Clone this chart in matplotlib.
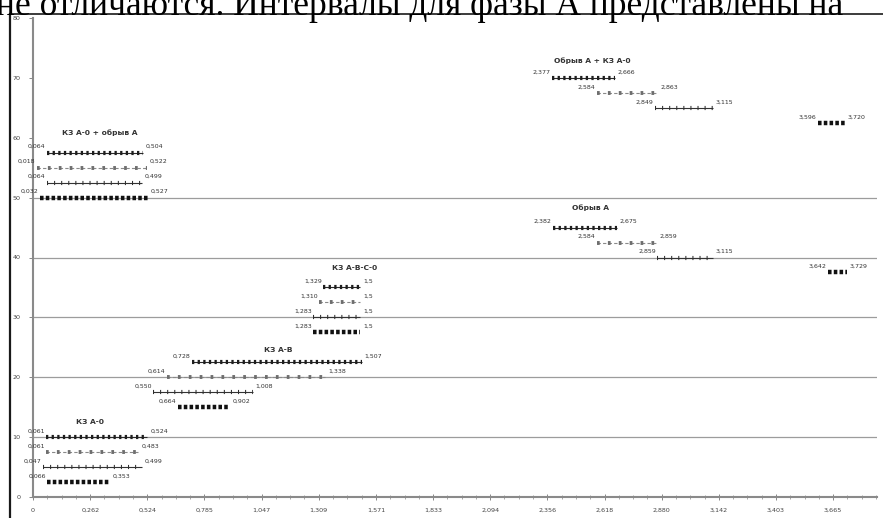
import matplotlib
matplotlib.use("Agg")
import matplotlib.pyplot as plt
from matplotlib.lines import Line2D

# ---- phase-A angle intervals (rad) for each fault case ----
kz_a0_start = [0.061, 0.061, 0.047, 0.066]
kz_a0_end = [0.524, 0.483, 0.499, 0.353]
kz_a0_y = [10, 7.5, 5, 2.5]

kz_ab_start = [0.728, 0.614, 0.550, 0.664]
kz_ab_end = [1.507, 1.338, 1.008, 0.902]
kz_ab_y = [22.5, 20, 17.5, 15]

kz_abc0_start = [1.329, 1.310, 1.283, 1.283]
kz_abc0_end = [1.5, 1.5, 1.5, 1.5]
kz_abc0_y = [35, 32.5, 30, 27.5]

kz_a0_obr_start = [0.064, 0.018, 0.064, 0.032]
kz_a0_obr_end = [0.504, 0.522, 0.499, 0.527]
kz_a0_obr_y = [57.5, 55, 52.5, 50]

obr_a_start = [2.382, 2.584, 2.859, 3.642]
obr_a_end = [2.675, 2.859, 3.115, 3.729]
obr_a_y = [45, 42.5, 40, 37.5]

obr_kz_start = [2.377, 2.584, 2.849, 3.596]
obr_kz_end = [2.666, 2.863, 3.115, 3.720]
obr_kz_y = [70, 67.5, 65, 62.5]

group_titles = ["КЗ А-0", "КЗ А-В", "КЗ А-В-С-0",
                "КЗ А-0 + обрыв А", "Обрыв А", "Обрыв А + КЗ А-0"]

x_tick_labels = ["0", "0,262", "0,524", "0,785", "1,047", "1,309", "1,571",
                 "1,833", "2,094", "2,356", "2,618", "2,880", "3,142",
                 "3,403", "3,665"]
y_tick_labels = ["0", "10", "20", "30", "40", "50", "60", "70", "80"]

W, H = 883, 518
fig = plt.figure(figsize=(W / 100, H / 100), dpi=100)
fig.patch.set_facecolor("white")

# line of document text above the chart
fig.text(-0.004, 1 - 15 / H,
         "не отличаются. Интервалы для фазы А представлены на",
         family="Liberation Serif", fontsize=25.5, va="baseline", ha="left",
         color="black")

# chart frame
fig.add_artist(Line2D([9.5 / W, 9.5 / W], [0, 1 - 14 / H],
                      transform=fig.transFigure, color="#1a1a1a", lw=1.6))
fig.add_artist(Line2D([9.5 / W, 1], [1 - 14 / H, 1 - 14 / H],
                      transform=fig.transFigure, color="#1a1a1a", lw=1.2))

ax = fig.add_axes([33 / W, 1 - 497 / H, (877 - 33) / W, (497 - 18) / H])
ax.set_xlim(0, 3.866)
ax.set_ylim(0, 80)
for s in ("top", "right"):
    ax.spines[s].set_visible(False)
for s in ("left", "bottom"):
    ax.spines[s].set_color("#8a8a8a")
    ax.spines[s].set_linewidth(1.5)

for g in (10, 20, 30, 40, 50):
    ax.axhline(g, color="#9c9c9c", lw=0.9, zorder=1)

x_ticks = [float(s.replace(",", ".")) for s in x_tick_labels]
ax.set_xticks(x_ticks)
ax.set_xticklabels(x_tick_labels)
minor = []
for a, b in zip(x_ticks, x_ticks[1:] + [x_ticks[-1] + x_ticks[1]]):
    minor += [a + (b - a) * k / 4 for k in (1, 2, 3)]
ax.set_xticks(minor, minor=True)
ax.tick_params(axis="x", which="major", direction="inout", length=4,
               width=0.7, color="#888888", labelsize=4.6, labelcolor="#444444",
               pad=6)
ax.tick_params(axis="x", which="minor", direction="inout", length=3,
               width=0.6, color="#999999")
y_ticks = [float(s) for s in y_tick_labels]
ax.set_yticks(y_ticks)
ax.set_yticklabels(y_tick_labels)
ax.tick_params(axis="y", direction="out", length=3, width=0.7,
               color="#888888", labelsize=4.6, labelcolor="#444444", pad=6)

# one look per row position inside a group (top to bottom)
row_styles = [
    dict(base=dict(color="#2a2a2a", lw=0.8),
         marks=dict(color="#1e1e1e", lw=3.0, ls=(0, (0.55, 0.8)))),
    dict(base=dict(color="#8a8a8a", lw=0.8, ls=(0, (3, 2))),
         marks=dict(color="#6e6e6e", lw=2.8, ls=(0, (0.7, 2.1)))),
    dict(base=dict(color="#333333", lw=0.8),
         marks=dict(color="#2e2e2e", lw=3.0, ls=(0, (0.25, 1.45)))),
    dict(base=None,
         marks=dict(color="#111111", lw=3.2, ls=(0, (0.8, 0.5)))),
]


def fmt(v):
    if abs(v * 10 - round(v * 10)) < 1e-9:
        return ("%.1f" % v).replace(".", ",")
    return ("%.3f" % v).replace(".", ",")


def draw_group(starts, ends, ys):
    for i, (a, b, y) in enumerate(zip(starts, ends, ys)):
        st = row_styles[i]
        if st["base"] is not None:
            ax.plot([a, b], [y, y], solid_capstyle="butt", zorder=3, **st["base"])
        ax.plot([a, b], [y, y], dash_capstyle="butt", solid_capstyle="butt",
                zorder=4, **st["marks"])
        ax.annotate(fmt(a), (a, y), xytext=(-1, 2.5), textcoords="offset points",
                    ha="right", va="bottom", fontsize=4.5, color="#333333")
        ax.annotate(fmt(b), (b, y), xytext=(2, 2.5), textcoords="offset points",
                    ha="left", va="bottom", fontsize=4.5, color="#333333")


groups = [
    (kz_a0_start, kz_a0_end, kz_a0_y),
    (kz_ab_start, kz_ab_end, kz_ab_y),
    (kz_abc0_start, kz_abc0_end, kz_abc0_y),
    (kz_a0_obr_start, kz_a0_obr_end, kz_a0_obr_y),
    (obr_a_start, obr_a_end, obr_a_y),
    (obr_kz_start, obr_kz_end, obr_kz_y),
]
title_pos = [(0.261, 12.5), (1.122, 24.5), (1.475, 38.2),
             (0.307, 60.8), (2.552, 48.3), (2.561, 72.8)]

for (s, e, y), title, (tx, ty) in zip(groups, group_titles, title_pos):
    draw_group(s, e, y)
    ax.text(tx, ty, title, ha="center", va="center", fontsize=5.4,
            fontweight="bold", color="#333333")

fig.savefig("out.png", dpi=100, facecolor="white")
